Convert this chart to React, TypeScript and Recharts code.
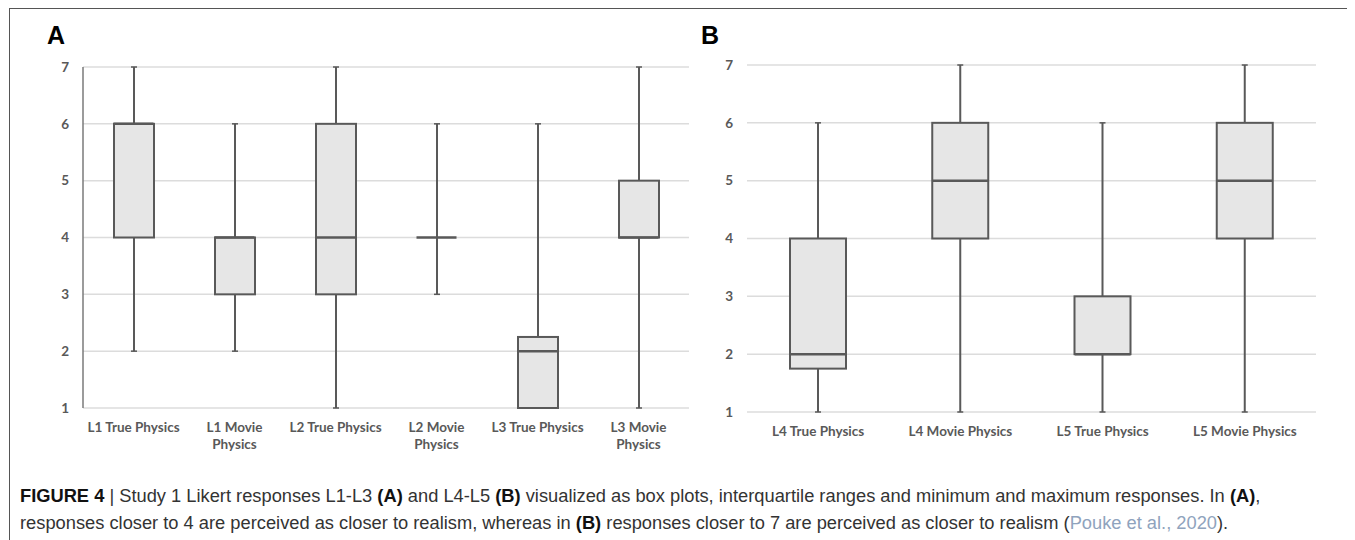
import React from "react";
import { ComposedChart, Bar, Scatter, XAxis, YAxis, CartesianGrid } from "recharts";

// ---------- Panel A data ----------
const categoriesA = [
  "L1 True Physics",
  "L1 Movie Physics",
  "L2 True Physics",
  "L2 Movie Physics",
  "L3 True Physics",
  "L3 Movie Physics",
];
const tickLinesA = [
  ["L1 True Physics"],
  ["L1 Movie", "Physics"],
  ["L2 True Physics"],
  ["L2 Movie", "Physics"],
  ["L3 True Physics"],
  ["L3 Movie", "Physics"],
];
const minA = [2, 2, 1, 3, 1, 1];
const q1A = [4, 3, 3, 4, 1, 4];
const medianA = [6, 4, 4, 4, 2, 4];
const q3A = [6, 4, 6, 4, 2.25, 5];
const maxA = [7, 6, 7, 6, 6, 7];

// ---------- Panel B data ----------
const categoriesB = [
  "L4 True Physics",
  "L4 Movie Physics",
  "L5 True Physics",
  "L5 Movie Physics",
];
const tickLinesB = [
  ["L4 True Physics"],
  ["L4 Movie Physics"],
  ["L5 True Physics"],
  ["L5 Movie Physics"],
];
const minB = [1, 1, 1, 1];
const q1B = [1.75, 4, 2, 4];
const medianB = [2, 5, 2, 5];
const q3B = [4, 6, 3, 6];
const maxB = [6, 7, 6, 7];

const yTicks = [1, 2, 3, 4, 5, 6, 7];

const STROKE = "#595959";
const BOX_FILL = "#e6e6e6";
const GRID = "#dcdcdc";
const TICK_FONT = "Lato, 'Open Sans', sans-serif";

function buildTable(
  cats: string[],
  mins: number[],
  q1s: number[],
  meds: number[],
  q3s: number[],
  maxs: number[]
) {
  return cats.map((name, i) => ({
    name,
    whisker: [mins[i], maxs[i]],
    box: [q1s[i], q3s[i]],
    median: meds[i],
  }));
}

const dataA = buildTable(categoriesA, minA, q1A, medianA, q3A, maxA);
const dataB = buildTable(categoriesB, minB, q1B, medianB, q3B, maxB);

const WhiskerShape = (props: any) => {
  const { x, y, width, height } = props;
  if (x == null || y == null) return <g />;
  const top = Math.min(y, y + height);
  const bot = Math.max(y, y + height);
  const cx = x + width / 2;
  return (
    <g>
      <line x1={cx} y1={top} x2={cx} y2={bot} stroke={STROKE} strokeWidth={2} />
      <line x1={x} y1={top} x2={x + width} y2={top} stroke={STROKE} strokeWidth={1.5} />
      <line x1={x} y1={bot} x2={x + width} y2={bot} stroke={STROKE} strokeWidth={1.5} />
    </g>
  );
};

const BoxShape = (props: any) => {
  const { x, y, width, height } = props;
  if (x == null || y == null) return <g />;
  const top = Math.min(y, y + height);
  const h = Math.abs(height);
  if (h < 0.5) return <g />;
  return (
    <rect x={x} y={top} width={width} height={h} fill={BOX_FILL} stroke={STROKE} strokeWidth={2} />
  );
};

const makeMedian = (w: number) => (props: any) => {
  const { cx, cy } = props;
  if (cx == null || cy == null) return <g />;
  return (
    <line x1={cx - w / 2} x2={cx + w / 2} y1={cy} y2={cy} stroke={STROKE} strokeWidth={2.5} />
  );
};

const makeTick = (lines: string[][]) => (props: any) => {
  const { x, y, payload } = props;
  const ls = lines[payload.index] ?? [String(payload.value)];
  return (
    <g transform={`translate(${x},${y})`}>
      {ls.map((l, i) => (
        <text
          key={i}
          x={0}
          y={24 + i * 17}
          textAnchor="middle"
          fill={STROKE}
          fontSize={13.5}
          fontWeight={700}
          fontFamily={TICK_FONT}
        >
          {l}
        </text>
      ))}
    </g>
  );
};

function BoxPanel(props: {
  data: any[];
  lines: string[][];
  width: number;
  height: number;
  top: number;
  bottom: number;
  left: number;
  right: number;
  boxWidth: number;
  showAxis: boolean;
}) {
  const { data, lines, width, height, top, bottom, left, right, boxWidth, showAxis } = props;
  return (
    <ComposedChart
      width={width}
      height={height}
      data={data}
      margin={{ top, right, bottom: 0, left: 0 }}
    >
      <CartesianGrid horizontal vertical={false} stroke={GRID} strokeWidth={1.5} />
      <XAxis
        xAxisId={0}
        dataKey="name"
        type="category"
        axisLine={false}
        tickLine={false}
        tickSize={0}
        tickMargin={0}
        interval={0}
        height={bottom}
        tick={makeTick(lines)}
      />
      <XAxis xAxisId="box" dataKey="name" type="category" hide height={0} />
      <YAxis
        type="number"
        domain={[1, 7]}
        ticks={yTicks}
        interval={0}
        width={left}
        axisLine={showAxis ? { stroke: "#7a7a7a", strokeWidth: 1.5 } : false}
        tickLine={false}
        tickSize={6}
        tickMargin={8}
        tick={{ fill: STROKE, fontSize: 13.5, fontWeight: 700, fontFamily: TICK_FONT }}
      />
      <Bar
        xAxisId={0}
        dataKey="whisker"
        barSize={6}
        shape={WhiskerShape}
        isAnimationActive={false}
      />
      <Bar
        xAxisId="box"
        dataKey="box"
        barSize={boxWidth}
        shape={BoxShape}
        isAnimationActive={false}
      />
      <Scatter
        xAxisId={0}
        dataKey="median"
        shape={makeMedian(boxWidth)}
        isAnimationActive={false}
      />
    </ComposedChart>
  );
}

export default function App() {
  const bold = { color: "#111" };
  return (
    <div
      style={{
        position: "relative",
        width: 1355,
        height: 540,
        margin: "-8px 0 0 -8px",
        overflow: "hidden",
        background: "#fff",
      }}
    >
      <div
        style={{
          position: "absolute",
          left: 9,
          top: 8,
          width: 1345,
          height: 600,
          border: "1px solid #555",
          boxSizing: "border-box",
        }}
      />
      <div
        style={{
          position: "absolute",
          left: 47,
          top: 23,
          fontFamily: "'Liberation Sans', Arial, sans-serif",
          fontWeight: 700,
          fontSize: 25,
          lineHeight: "25px",
          color: "#000",
        }}
      >
        A
      </div>
      <div
        style={{
          position: "absolute",
          left: 701,
          top: 23,
          fontFamily: "'Liberation Sans', Arial, sans-serif",
          fontWeight: 700,
          fontSize: 25,
          lineHeight: "25px",
          color: "#000",
        }}
      >
        B
      </div>
      <div style={{ position: "absolute", left: 0, top: 0 }}>
        <BoxPanel
          data={dataA}
          lines={tickLinesA}
          width={700}
          height={470}
          top={67}
          bottom={62}
          left={83}
          right={11}
          boxWidth={40}
          showAxis={true}
        />
      </div>
      <div style={{ position: "absolute", left: 680, top: 0 }}>
        <BoxPanel
          data={dataB}
          lines={tickLinesB}
          width={675}
          height={470}
          top={65}
          bottom={58}
          left={67}
          right={39}
          boxWidth={56}
          showAxis={false}
        />
      </div>
      <div
        style={{
          position: "absolute",
          left: 20,
          top: 482,
          fontFamily: "'Liberation Sans', Arial, Helvetica, sans-serif",
          fontSize: 18.3,
          lineHeight: "27px",
          color: "#333",
          whiteSpace: "nowrap",
        }}
      >
        <div>
          <b style={bold}>FIGURE 4</b> | Study 1 Likert responses L1-L3 <b style={bold}>(A)</b> and
          L4-L5 <b style={bold}>(B)</b> visualized as box plots, interquartile ranges and minimum
          and maximum responses. In <b style={bold}>(A)</b>,
        </div>
        <div>
          responses closer to 4 are perceived as closer to realism, whereas in{" "}
          <b style={bold}>(B)</b> responses closer to 7 are perceived as closer to realism (
          <span style={{ color: "#8fa3bd" }}>Pouke et al., 2020</span>).
        </div>
      </div>
    </div>
  );
}
